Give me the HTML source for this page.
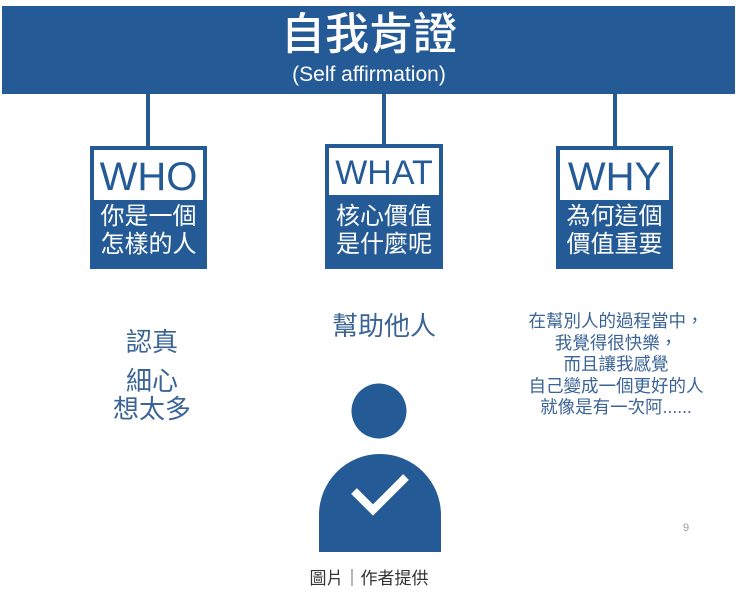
<!DOCTYPE html>
<html><head><meta charset="utf-8"><style>
body{margin:0;width:738px;height:596px;background:#fff;position:relative;overflow:hidden;font-family:"Liberation Sans","Noto Sans CJK TC",sans-serif}
.a{position:absolute}
.bl{background:#245a96}
.c{text-align:center}
.box{position:absolute;background:#245a96}
.box .w{position:absolute;left:4px;right:4px;top:4px;background:#fff;color:#245a96;text-align:center;font-size:40px;line-height:54px}
.box .t{position:absolute;left:0;right:0;color:#fff;text-align:center;font-size:24px;line-height:28px}
.blue{color:#3a6396}
</style></head><body>
<div class="a bl" style="left:2px;top:6px;width:733px;height:88px"></div>
<div class="a c" style="left:0;width:738px;top:8px;color:#fff;font-size:44px;line-height:54px;font-weight:500">自我肯證</div>
<div class="a c" style="left:0;width:738px;top:62px;color:#fff;font-size:21px;line-height:26px">(Self affirmation)</div>
<div class="a bl" style="left:146px;top:94px;width:4px;height:54px"></div>
<div class="a bl" style="left:382px;top:94px;width:4px;height:52px"></div>
<div class="a bl" style="left:613px;top:94px;width:4px;height:54px"></div>

<div class="box" style="left:90px;top:146px;width:117px;height:123px"><div class="w" style="height:50px">WHO</div><div class="t" style="top:57px">你是一個<br>怎樣的人</div></div>
<div class="box" style="left:325px;top:144px;width:118px;height:125px"><div class="w" style="height:47px;font-size:34px;line-height:50px">WHAT</div><div class="t" style="top:59px">核心價值<br>是什麼呢</div></div>
<div class="box" style="left:556px;top:146px;width:117px;height:123px"><div class="w" style="height:50px">WHY</div><div class="t" style="top:57px">為何這個<br>價值重要</div></div>

<div class="a c blue" style="left:92px;width:120px;top:326px;font-size:26px;line-height:32px">認真</div>
<div class="a c blue" style="left:92px;width:120px;top:367px;font-size:26px;line-height:28px">細心<br>想太多</div>
<div class="a c blue" style="left:314px;width:140px;top:310px;font-size:26px;line-height:32px">幫助他人</div>
<div class="a c blue" style="left:500px;width:232px;top:311px;font-size:17.5px;line-height:21.5px">在幫別人的過程當中，<br>我覺得很快樂，<br>而且讓我感覺<br>自己變成一個更好的人<br>就像是有一次阿......</div>

<svg class="a" style="left:0;top:0" width="738" height="596">
<circle cx="379" cy="411" r="27.5" fill="#245a96"/>
<path d="M319 552 V515 A60 60 0 0 1 441 515 V552 Z" fill="#245a96"/>
<path d="M354 491 L373 510 L406 477" stroke="#fff" stroke-width="8" fill="none"/>
<text x="686" y="531" font-size="11" fill="#999" text-anchor="middle" font-family="Liberation Sans">9</text>
</svg>
<div class="a c" style="left:0;width:738px;top:567px;font-size:17px;line-height:24px;color:#333">圖片｜作者提供</div>
</body></html>
